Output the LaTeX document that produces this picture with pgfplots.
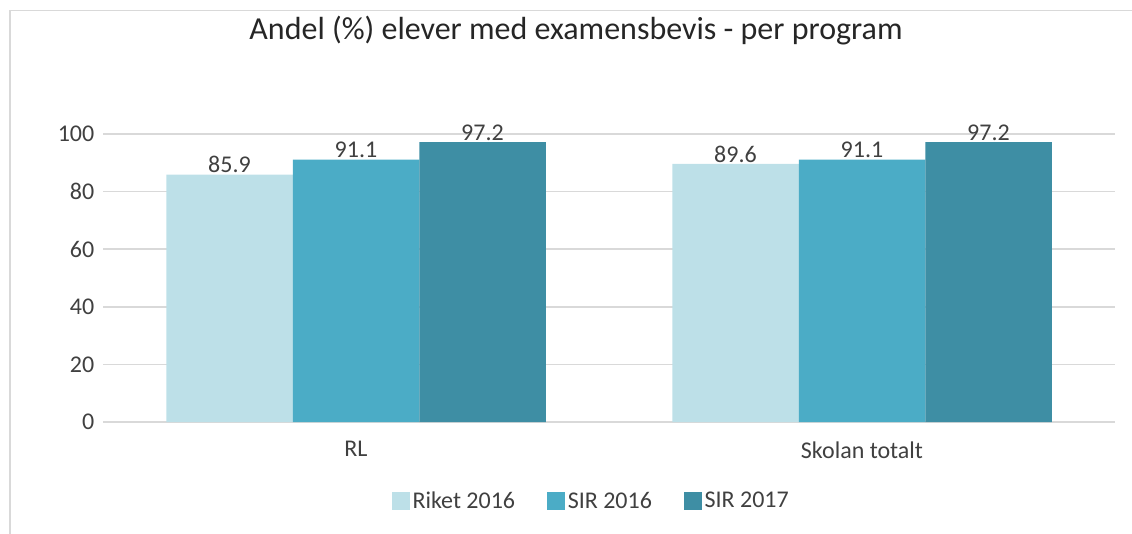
\documentclass[border=0pt]{standalone}
\usepackage{pgfplots}
\pgfplotsset{compat=1.18}
\usepackage{fontspec}
\setmainfont{Carlito}
\definecolor{c1}{HTML}{BDE0E8}
\definecolor{c2}{HTML}{4BACC6}
\definecolor{c3}{HTML}{3E8EA4}
\definecolor{gridc}{HTML}{D9D9D9}
\definecolor{txt}{HTML}{404040}
\begin{document}
\begin{tikzpicture}
\path[use as bounding box] (0pt,0pt) rectangle (849pt,-400.5pt);
\draw[gridc, line width=1.2pt] (7.5pt,-400.5pt) -- (7.5pt,-7.875pt) -- (849pt,-7.875pt);
\node[font=\fontsize{24}{28}\selectfont, text=black!85] at (432pt,-23.25pt) {Andel (\%) elever med examensbevis - per program};
\begin{axis}[
  at={(77.25pt,-316.5pt)}, anchor=south west,
  scale only axis,
  width=759pt, height=216pt,
  xmin=-0.5, xmax=1.5, ymin=0, ymax=100,
  ybar=0pt, bar width=0.25,
  xtick={0,1}, xticklabels={RL,Skolan totalt},
  ytick={0,20,40,60,80,100},
  /pgf/number format/assume math mode=true,
  ymajorgrids, grid style={gridc, line width=1.2pt},
  axis line style={draw=none},
  major tick length=0pt,
  tick label style={font=\fontsize{18}{21}\selectfont, text=txt},
  yticklabel style={xshift=-3pt},
  xticklabel style={yshift=-11pt},
  nodes near coords,
  nodes near coords style={font=\fontsize{18}{21}\selectfont, text=txt, inner sep=1pt},
  point meta=explicit symbolic,
  clip=false,
  legend columns=3,
  legend style={at={(0.5,-0.275)}, anchor=center, xshift=-13pt, draw=none, fill=none,
    font=\fontsize{18}{21}\selectfont, text=txt,
    /tikz/every even column/.append style={column sep=22pt}},
  legend image code/.code={\fill[#1, draw=none] (0pt,-6.5pt) rectangle (13.5pt,7pt);},
]
\addplot[fill=c1, draw=none] coordinates {(0,85.9) [85.9] (1,89.6) [89.6]};
\addplot[fill=c2, draw=none] coordinates {(0,91.1) [91.1] (1,91.1) [91.1]};
\addplot[fill=c3, draw=none] coordinates {(0,97.2) [97.2] (1,97.2) [97.2]};
\legend{Riket 2016, SIR 2016, SIR 2017}
\end{axis}
\end{tikzpicture}
\end{document}
